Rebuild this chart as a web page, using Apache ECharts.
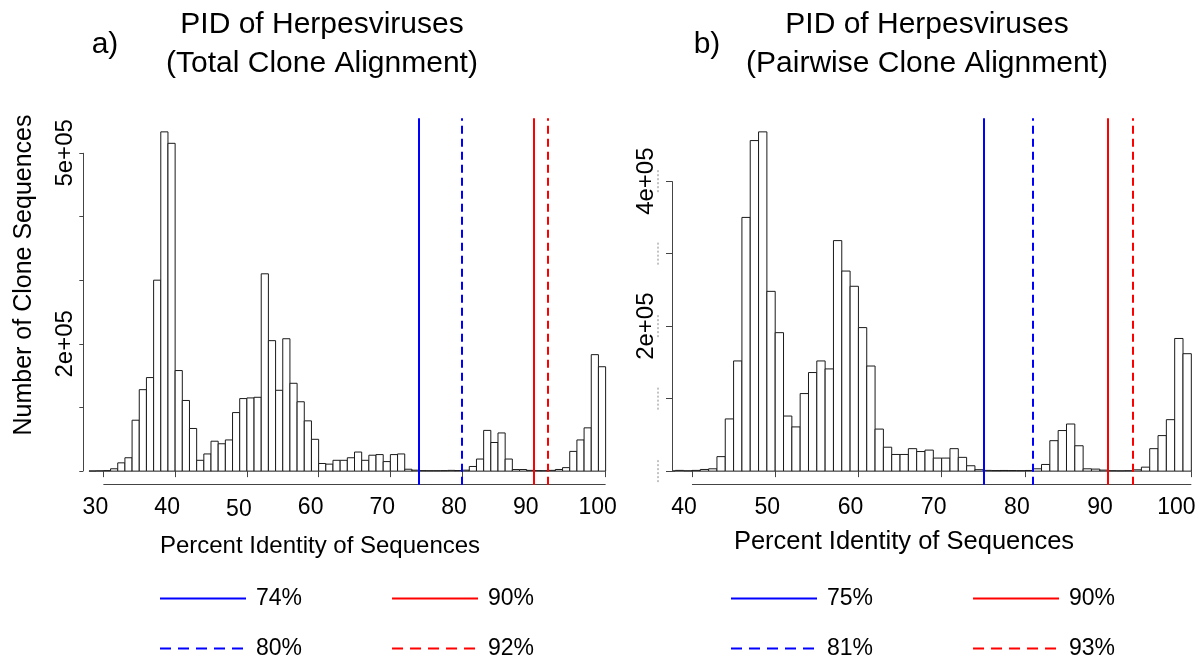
<!DOCTYPE html>
<html>
<head>
<meta charset="utf-8">
<script src="https://cdn.jsdelivr.net/npm/echarts@6/dist/echarts.min.js"></script>
<style>
  html, body { margin: 0; background: #fff; }
  #chart { width: 1199px; height: 662px; }
</style>
</head>
<body>
<div id="chart"></div>
<script>
// a) total clone alignment: 1% bins starting at 28
const binStartA = 28;
const countsA = [
  300, 500, 800, 3700, 13000, 21000, 80000, 128000, 147000, 300000,
  533000, 515000, 158000, 111000, 67000, 17000, 27000, 47000, 43000, 49000,
  92000, 114000, 115000, 116000, 310000, 205000, 127000, 208000, 138000, 109000,
  79000, 50000, 12000, 11000, 17000, 17000, 21000, 30000, 17000, 25000,
  26000, 15000, 26000, 27000, 3000, 1500, 800, 700, 700, 800,
  1200, 900, 1500, 7300, 19000, 64000, 45000, 60000, 19000, 2500,
  2500, 1200, 800, 700, 1200, 2600, 5500, 31000, 49000, 68000,
  183000, 164000
];
// b) pairwise clone alignment: 1% bins starting at 37
const binStartB = 37;
const countsB = [
  300, 1000, 500, 1000, 2300, 3200, 20000, 72000, 152000, 350000,
  456000, 468000, 248000, 191000, 76000, 61000, 107000, 136000, 152000, 141000,
  318000, 276000, 255000, 198000, 145000, 58000, 33000, 23000, 23000, 31000,
  27000, 29000, 18000, 18000, 31000, 19000, 7400, 2000, 1000, 800,
  900, 800, 700, 900, 3200, 9200, 42000, 56000, 65000, 35000,
  3200, 2800, 1400, 600, 500, 600, 1800, 5500, 31000, 49000,
  71000, 183000, 162000
];

const cutoffsA = [74, 80, 90, 92];
const cutoffsB = [75, 81, 90, 93];

const xTicksA = [30, 40, 50, 60, 70, 80, 90, 100];
const xTicksB = [40, 50, 60, 70, 80, 90, 100];
const yTicksA = [0, 100000, 200000, 300000, 400000, 500000];
const yLabelsA = [200000, 500000];
const yTicksB = [0, 100000, 200000, 300000, 400000];
const yLabelsB = [200000, 400000];

const FONT = 'Liberation Sans, Arial, sans-serif';
const BLUE = '#0000ff';
const RED = '#ff0000';
const AXIS = '#444';

// R style "5e+05"
function sci(v) {
  if (v === 0) return '0';
  const e = Math.floor(Math.log10(v));
  const m = Math.round(v / Math.pow(10, e));
  return m + 'e+' + String(e).padStart(2, '0');
}

// R pads ranges by 4% on both sides
function padRange(lo, hi) {
  const d = (hi - lo) * 0.04;
  return [lo - d, hi + d];
}

const panels = [
  {
    grid: { left: 83.3, top: 118.3, width: 542.4, height: 366.4, outerBoundsMode: 'none' },
    xlim: padRange(30, 100), ylim: padRange(0, Math.max(...countsA)),
    binStart: binStartA, counts: countsA, cutoffs: cutoffsA,
    names: ['74%', '80%', '90%', '92%'],
    xTicks: xTicksA, yTicks: yTicksA, yLabels: yLabelsA, labelMargin: 6, tickLen: 4,
    lowLabel: 50, edgeLabel: null
  },
  {
    grid: { left: 672, top: 118.3, width: 539.3, height: 366.4, outerBoundsMode: 'none' },
    xlim: padRange(40, 100), ylim: padRange(0, Math.max(...countsB)),
    binStart: binStartB, counts: countsB, cutoffs: cutoffsB,
    names: ['75%', '81%', '90%', '93%'],
    xTicks: xTicksB, yTicks: yTicksB, yLabels: yLabelsB, labelMargin: 14, tickLen: 6,
    lowLabel: null, edgeLabel: 100
  }
];

const grids = [], xAxes = [], yAxes = [], series = [];
const lineColors = [BLUE, BLUE, RED, RED];
const lineTypes = ['solid', [8, 5], 'solid', [8, 5]];

const tickText = { fontSize: 23, fontFamily: FONT, color: '#000' };
const xRich = {
  n: Object.assign({ padding: [0, 16, 0, 0] }, tickText),
  low: Object.assign({ padding: [2, 16, 0, 0] }, tickText),
  edge: Object.assign({ padding: [0, 30, 0, 0] }, tickText)
};

panels.forEach((p, k) => {
  grids.push(p.grid);
  xAxes.push({
    gridIndex: k, type: 'value', min: p.xlim[0], max: p.xlim[1],
    axisLine: { show: false }, splitLine: { show: false },
    axisTick: { customValues: p.xTicks, length: 6, lineStyle: { color: AXIS } },
    axisLabel: {
      customValues: p.xTicks, margin: 11, fontSize: 23, color: '#000', fontFamily: FONT,
      formatter: v => {
        const tag = v === p.lowLabel ? 'low' : (v === p.edgeLabel ? 'edge' : 'n');
        return '{' + tag + '|' + v + '}';
      },
      rich: xRich
    }
  });
  yAxes.push({
    gridIndex: k, type: 'value', min: p.ylim[0], max: p.ylim[1],
    axisLine: { show: false }, splitLine: { show: false },
    axisTick: { customValues: p.yTicks, length: p.tickLen, lineStyle: { color: AXIS } },
    axisLabel: {
      customValues: p.yLabels, rotate: 90, margin: p.labelMargin,
      fontSize: 24, color: '#000', fontFamily: FONT, formatter: sci
    }
  });

  // histogram bars
  series.push({
    type: 'custom', xAxisIndex: k, yAxisIndex: k, clip: true, silent: true,
    data: p.counts.map((c, i) => [p.binStart + i, c]),
    renderItem: (params, api) => {
      const x0 = api.value(0);
      const a = api.coord([x0, 0]);
      const b = api.coord([x0 + 1, api.value(1)]);
      return {
        type: 'rect',
        shape: { x: a[0], y: b[1], width: b[0] - a[0], height: a[1] - b[1] },
        style: { fill: '#fff', stroke: '#1a1a1a', lineWidth: 1 }
      };
    }
  });

  // axis lines limited to the tick range, like R's axis()
  const yTop = p.yTicks[p.yTicks.length - 1];
  series.push({
    type: 'line', xAxisIndex: k, yAxisIndex: k, data: [], silent: true,
    markLine: {
      silent: true, symbol: 'none', label: { show: false },
      lineStyle: { color: AXIS, width: 1, type: 'solid' },
      data: [
        [{ coord: [p.xlim[0], 0] }, { coord: [p.xlim[0], yTop] }],
        [{ coord: [p.xTicks[0], p.ylim[0]] }, { coord: [p.xTicks[p.xTicks.length - 1], p.ylim[0]] }]
      ]
    }
  });

  // cut-off lines
  p.cutoffs.forEach((c, i) => {
    series.push({
      name: p.names[i], type: 'line', xAxisIndex: k, yAxisIndex: k, data: [],
      symbol: 'none', silent: true,
      itemStyle: { color: lineColors[i] },
      lineStyle: { color: lineColors[i], width: 2, type: lineTypes[i] },
      markLine: {
        silent: true, symbol: 'none', label: { show: false },
        lineStyle: { color: lineColors[i], width: 2, type: lineTypes[i] },
        data: [{ xAxis: c }]
      }
    });
  });
});

const titleStyle = { fontSize: 30, lineHeight: 39, fontWeight: 'normal', color: '#000', fontFamily: FONT };
const axisTitleA = { fontSize: 24, fontWeight: 'normal', color: '#000', fontFamily: FONT };
const axisTitleB = { fontSize: 25.5, fontWeight: 'normal', color: '#000', fontFamily: FONT };

const legendBase = {
  orient: 'horizontal', itemWidth: 86, itemHeight: 14, selectedMode: false, padding: 0,
  itemStyle: { opacity: 0 },
  textStyle: { fontSize: 23, color: '#000', fontFamily: FONT, padding: [0, 0, 0, 5] }
};
const legendDash = { type: [11, 7] };

const yTitle = {
  type: 'text', x: 24, y: 275, rotation: Math.PI / 2, silent: true,
  style: { text: 'Number of Clone Sequences', font: '25px ' + FONT, fill: '#000', align: 'center', verticalAlign: 'middle' }
};

const option = {
  animation: false,
  backgroundColor: '#fff',
  title: [
    { text: 'PID of Herpesviruses\n(Total Clone Alignment)', left: 322, top: 5, textAlign: 'center', padding: 0, textStyle: titleStyle },
    { text: 'PID of Herpesviruses\n(Pairwise Clone Alignment)', left: 927, top: 5, textAlign: 'center', padding: 0, textStyle: titleStyle },
    { text: 'a)', left: 105, top: 25, textAlign: 'center', padding: 0, textStyle: titleStyle },
    { text: 'b)', left: 707, top: 25, textAlign: 'center', padding: 0, textStyle: titleStyle },
    { text: 'Percent Identity of Sequences', left: 320, top: 534, textAlign: 'center', padding: 0, textStyle: axisTitleA },
    { text: 'Percent Identity of Sequences', left: 904, top: 529, textAlign: 'center', padding: 0, textStyle: axisTitleB }
  ],
  graphic: [yTitle],
  legend: [
    Object.assign({}, legendBase, { left: 159, top: 587, itemGap: 89, data: ['74%', '90%'] }),
    Object.assign({}, legendBase, { left: 159, top: 637, itemGap: 89, data: [{ name: '80%', lineStyle: legendDash }, { name: '92%', lineStyle: legendDash }] }),
    Object.assign({}, legendBase, { left: 730, top: 587, itemGap: 99, data: ['75%', '90%'] }),
    Object.assign({}, legendBase, { left: 730, top: 637, itemGap: 99, data: [{ name: '81%', lineStyle: legendDash }, { name: '93%', lineStyle: legendDash }] })
  ],
  grid: grids,
  xAxis: xAxes,
  yAxis: yAxes,
  series: series
};

const chart = echarts.init(document.getElementById('chart'));
chart.setOption(option);

// faint remnants just left of panel b's y axis, one per tick
const pb = panels[1];
const remnants = pb.yTicks.map(v => {
  const pt = chart.convertToPixel({ gridIndex: 1 }, [pb.xlim[0], v]);
  return {
    type: 'line', silent: true,
    shape: { x1: pt[0] - 14, y1: pt[1] - 11, x2: pt[0] - 14, y2: pt[1] + 11 },
    style: { stroke: '#888', lineWidth: 1, lineDash: [2, 2] }
  };
});
chart.setOption({ graphic: [yTitle].concat(remnants) });
</script>
</body>
</html>
